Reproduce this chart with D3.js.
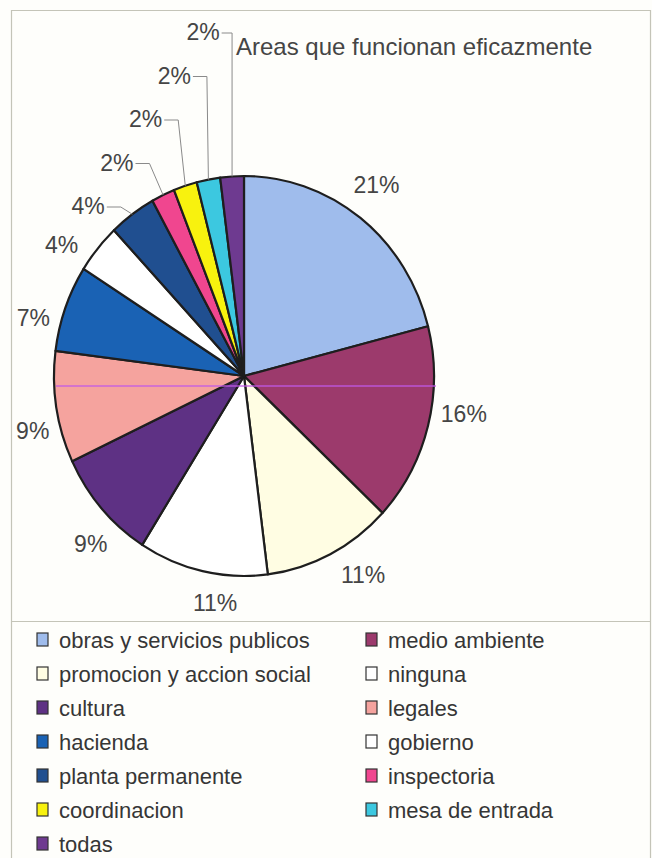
<!DOCTYPE html>
<html>
<head>
<meta charset="utf-8">
<script src="https://cdn.jsdelivr.net/npm/d3@7"></script>
<style>
  html, body { margin: 0; padding: 0; background: #fefefb; }
  svg { display: block; }
  text { font-family: "Liberation Sans", Arial, sans-serif; }
</style>
</head>
<body>
<svg id="chart" width="652" height="858"></svg>
<script>
// Survey answers: which municipal areas work effectively (share of responses, %)
const categories = [
  "obras y servicios publicos", "medio ambiente", "promocion y accion social",
  "ninguna", "cultura", "legales", "hacienda", "gobierno",
  "planta permanente", "inspectoria", "coordinacion", "mesa de entrada", "todas"
];
const values = [21, 16, 11, 11, 9, 9, 7, 4, 4, 2, 2, 2, 2];
const sliceColors = [
  "#9fbcec", "#9c3a6c", "#fffde3", "#ffffff", "#5e3184", "#f5a39e", "#1a62b4",
  "#ffffff", "#204f90", "#f0468f", "#f8f20e", "#3cc8e0", "#6e3a90"
];
const valueLabels = values.map(v => v + "%");
const title = "Areas que funcionan eficazmente";
// slices whose labels are stacked above the pie with leader lines
const leaderSlices = [12, 11, 10, 9, 8];

const svg = d3.select("#chart");
const W = 652, H = 858;

// frame and legend separator
const frame = svg.append("g").attr("fill", "none").attr("stroke", "#c4c4b8").attr("stroke-width", 1.2);
frame.append("line").attr("x1", 11).attr("x2", 650).attr("y1", 10.5).attr("y2", 10.5);
frame.append("line").attr("x1", 11.5).attr("x2", 11.5).attr("y1", 10).attr("y2", H);
frame.append("line").attr("x1", 650.5).attr("x2", 650.5).attr("y1", 10).attr("y2", H);
frame.append("line").attr("x1", 11).attr("x2", 650).attr("y1", 621.5).attr("y2", 621.5);

// pie geometry (slightly taller than wide)
const cx = 244, cy = 376, rx = 190, ry = 200;

const pie = d3.pie().sort(null).value(d => d)(values);
const arc = d3.arc().innerRadius(0).outerRadius(rx);

const pieG = svg.append("g")
  .attr("transform", `translate(${cx},${cy}) scale(1,${ry / rx})`);

pieG.selectAll("path.slice")
  .data(pie)
  .join("path")
  .attr("class", "slice")
  .attr("d", arc)
  .attr("fill", (d, i) => sliceColors[i])
  .attr("stroke", "#1e1e1e")
  .attr("stroke-width", 2.2)
  .attr("stroke-linejoin", "round")
  .attr("vector-effect", "non-scaling-stroke");

// thin violet rule across the pie
svg.append("line")
  .attr("x1", cx - rx + 2).attr("x2", cx + rx + 2)
  .attr("y1", cy + 10).attr("y2", cy + 10)
  .attr("stroke", "#c25ae8").attr("stroke-width", 1.4).attr("opacity", 0.85);

const midAngle = d => (d.startAngle + d.endAngle) / 2;
const edgePoint = a => [cx + rx * Math.sin(a), cy - ry * Math.cos(a)];
// labels drift a little counter-clockwise of the slice centre
const deg = Math.PI / 180;
const labelBias = a => -5 * deg * Math.min(1, a / (100 * deg));

const labelG = svg.append("g")
  .attr("font-size", 23)
  .attr("fill", "#454545");

// radial labels next to the larger slices
pie.forEach((d, i) => {
  if (leaderSlices.includes(i)) return;
  const m = midAngle(d);
  const a = m + labelBias(m);
  const ux = Math.sin(a), uy = -Math.cos(a);
  const t = labelG.append("text")
    .attr("text-anchor", "middle")
    .attr("dominant-baseline", "central")
    .text(valueLabels[i]);
  const w = t.node().getComputedTextLength();
  const hh = 9;
  const gap = 7 + 10 * Math.abs(uy);
  const reach = gap + Math.abs(ux) * w / 2 + Math.abs(uy) * hh;
  const [px, py] = edgePoint(a);
  t.attr("x", px + ux * reach).attr("y", py + uy * reach);
});

// stacked labels with elbow leader lines for the thin slices at the top
const stackTop = 32, stackStep = 43.5, stackX0 = 203, stackSlope = 0.66;
const leaderG = svg.append("g")
  .attr("fill", "none").attr("stroke", "#8a8a8a").attr("stroke-width", 1);

leaderSlices.forEach((i, k) => {
  const d = pie[i];
  const ly = stackTop + k * stackStep;
  const lx = stackX0 - stackSlope * (ly - stackTop);
  const t = labelG.append("text")
    .attr("x", lx).attr("y", ly)
    .attr("text-anchor", "middle")
    .attr("dominant-baseline", "central")
    .text(valueLabels[i]);
  const w = t.node().getComputedTextLength();
  const right = lx + w / 2 + 2;
  const [px, py] = edgePoint(midAngle(d));
  const elbowX = Math.min(px, right + 14);
  leaderG.append("path")
    .attr("d", d3.line()([[right, ly + 1], [elbowX, ly + 1], [px, py]]));
});

// title
svg.append("text")
  .attr("x", 236).attr("y", 46)
  .attr("dominant-baseline", "central")
  .attr("font-size", 24)
  .attr("fill", "#454545")
  .text(title);

// legend: two columns, row-major
const legendRowY = d3.scaleLinear().domain([0, 1]).range([640, 674]);
const legendColX = [37, 366];
const legendG = svg.append("g").attr("font-size", 22).attr("fill", "#363636");
categories.forEach((c, i) => {
  const row = Math.floor(i / 2), col = i % 2;
  const y = legendRowY(row), x = legendColX[col];
  legendG.append("rect")
    .attr("x", x).attr("y", y - 7)
    .attr("width", 11).attr("height", 13)
    .attr("fill", sliceColors[i])
    .attr("stroke", "#333").attr("stroke-width", 1.2);
  legendG.append("text")
    .attr("x", x + 22).attr("y", y)
    .attr("dominant-baseline", "central")
    .text(c);
});
</script>
</body>
</html>
